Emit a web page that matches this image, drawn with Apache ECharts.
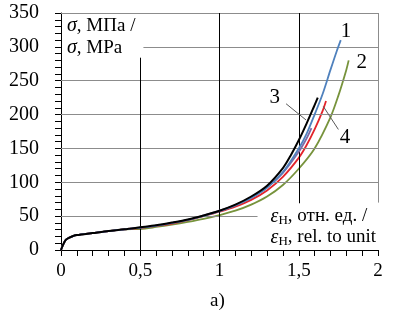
<!DOCTYPE html>
<html>
<head>
<meta charset="utf-8">
<script src="https://cdn.jsdelivr.net/npm/echarts@6/dist/echarts.min.js"></script>
<style>
  html, body { margin: 0; padding: 0; background: #fff; }
  #main { width: 393px; height: 323px; }
</style>
</head>
<body>
<div id="main"></div>
<script>
// strain (rel. units) / stress (MPa)
var startPart = [[0, 0], [0.01, 6], [0.02, 11], [0.03, 15], [0.05, 18], [0.08, 21], [0.1, 22], [0.2, 25], [0.3, 28], [0.4, 30.5]];

var curve1 = [[0.5, 33], [0.6, 36], [0.7, 40], [0.8, 44.5], [0.9, 50.5], [1.0, 57.5], [1.1, 66], [1.2, 77],
  [1.3, 92], [1.4, 115], [1.5, 150], [1.55, 172], [1.6, 200], [1.65, 230], [1.7, 266], [1.74, 294], [1.765, 310]];
var curve2 = [[0.5, 31], [0.6, 34], [0.7, 37.5], [0.8, 41.5], [0.9, 46], [1.0, 51.5], [1.1, 58], [1.2, 67],
  [1.3, 79], [1.4, 96], [1.5, 120], [1.6, 150], [1.7, 196], [1.75, 228], [1.8, 266], [1.815, 280]];
var curve3 = [[0.5, 33.5], [0.6, 36.5], [0.7, 40.5], [0.8, 45], [0.9, 51], [1.0, 58], [1.1, 67], [1.2, 79],
  [1.3, 95], [1.4, 121], [1.45, 140], [1.5, 162], [1.55, 187], [1.6, 214], [1.62, 225]];
var curve4 = [[0.5, 32.5], [0.6, 35.5], [0.7, 39], [0.8, 44], [0.9, 50], [1.0, 56.5], [1.1, 64], [1.2, 74],
  [1.3, 88], [1.4, 108], [1.5, 136], [1.55, 155], [1.6, 178], [1.65, 205], [1.672, 220]];
var curve5 = [[0.5, 33], [0.6, 36], [0.7, 40], [0.8, 44.5], [0.9, 51], [1.0, 58], [1.1, 66.5], [1.2, 78],
  [1.3, 93], [1.4, 114], [1.5, 145], [1.55, 165], [1.58, 180]];

var xTicks = [0, 0.5, 1, 1.5, 2];
var yTicks = [0, 50, 100, 150, 200, 250, 300, 350];

// curve numbers and their spots
var curveNames = ['1', '2', '3', '4'];
var namePos = [[1.798, 323], [1.897, 277], [1.348, 225], [1.792, 166]];

var FONT = 'Liberation Serif';
var gridGray = '#8c8c8c';

function full(arr) { return startPart.concat(arr); }

function gline(x1, y1, x2, y2, color) {
  return [{ coord: [x1, y1], lineStyle: { color: color, width: 1, type: 'solid' } }, { coord: [x2, y2] }];
}

var chart = echarts.init(document.getElementById('main'));

var option = {
  animation: false,
  backgroundColor: '#fff',
  grid: { left: 61, right: 15, top: 13, bottom: 73, outerBoundsMode: 'none' },
  xAxis: {
    type: 'value', min: 0, max: 2, interval: 0.5,
    axisLine: { show: true, onZero: false, lineStyle: { color: '#000', width: 1 } },
    axisTick: { show: true, length: 6, lineStyle: { color: '#000' } },
    minorTick: { show: true, splitNumber: 5, length: 6, lineStyle: { color: '#000' } },
    splitLine: { show: false },
    axisLabel: {
      color: '#000', fontFamily: FONT, fontSize: 19, margin: 12,
      showMinLabel: true, showMaxLabel: true,
      formatter: function (v) { return String(v).replace('.', ','); }
    }
  },
  yAxis: {
    type: 'value', min: 0, max: 350, interval: 50,
    axisLine: { show: true, onZero: false, lineStyle: { color: '#000', width: 1 } },
    axisTick: { show: true, length: 6, lineStyle: { color: '#000' } },
    minorTick: { show: true, splitNumber: 5, length: 6, lineStyle: { color: '#000' } },
    splitLine: { show: false },
    axisLabel: { color: '#000', fontFamily: FONT, fontSize: 20, margin: 22, showMinLabel: true, showMaxLabel: true }
  },
  graphic: [
    {
      type: 'text', left: 67, top: 15, z: 10,
      style: {
        text: '{i|σ}, МПа /\n{i|σ}, MPa',
        font: '19px "Liberation Serif"', fill: '#000', lineHeight: 22,
        rich: { i: { fontStyle: 'italic', fontFamily: FONT, fontSize: 20, fill: '#000' } }
      }
    },
    {
      type: 'text', right: 17, top: 206, z: 10,
      style: {
        text: '{i|ε}{s|Н}, отн. ед. /\n{i|ε}{s|Н}, rel. to unit',
        font: '19px "Liberation Serif"', fill: '#000', lineHeight: 21, align: 'left',
        rich: {
          i: { fontStyle: 'italic', fontFamily: FONT, fontSize: 20, fill: '#000' },
          s: { fontFamily: FONT, fontSize: 13, fill: '#000', padding: [8, 0, 0, 0] }
        }
      }
    },
    {
      type: 'text', left: 210, top: 292,
      style: { text: 'a)', font: '19px "Liberation Serif"', fill: '#000' }
    }
  ],
  series: [
    {
      // grid lines and label leaders
      type: 'line', data: [], z: 1, silent: true, symbol: 'none',
      markLine: {
        silent: true, symbol: 'none', label: { show: false }, animation: false,
        data: [
          gline(0, 350, 2, 350, gridGray),
          gline(0.52, 300, 2, 300, gridGray),
          gline(0, 250, 2, 250, gridGray),
          gline(0, 200, 2, 200, gridGray),
          gline(0, 150, 2, 150, gridGray),
          gline(0, 100, 2, 100, gridGray),
          gline(0, 50, 1.24, 50, gridGray),
          gline(2, 70, 2, 350, gridGray),
          gline(0.5, 0, 0.5, 284, '#000'),
          gline(1, 0, 1, 350, '#000'),
          gline(1.5, 69, 1.5, 350, '#000'),
          gline(1.42, 216, 1.546, 192, '#595959'),
          gline(1.655, 212, 1.75, 178, '#595959')
        ]
      },
      markPoint: {
        symbol: 'circle', symbolSize: 1, silent: true,
        itemStyle: { color: 'rgba(0,0,0,0)' },
        label: { show: true, position: 'inside', color: '#000', fontFamily: FONT, fontSize: 21, formatter: '{b}' },
        data: curveNames.map(function (n, i) { return { name: n, coord: namePos[i] }; })
      }
    },
    { name: '2', type: 'line', data: full(curve2), symbol: 'none', smooth: 0.3, z: 3, lineStyle: { color: '#77933c', width: 1.8 } },
    { name: '4', type: 'line', data: full(curve4), symbol: 'none', smooth: 0.3, z: 4, lineStyle: { color: '#e3242b', width: 1.8 } },
    { name: '5', type: 'line', data: full(curve5), symbol: 'none', smooth: 0.3, z: 5, lineStyle: { color: '#7f6aa6', width: 1.8 } },
    { name: '1', type: 'line', data: full(curve1), symbol: 'none', smooth: 0.3, z: 6, lineStyle: { color: '#4f81bd', width: 1.8 } },
    { name: '3', type: 'line', data: full(curve3), symbol: 'none', smooth: 0.3, z: 7, lineStyle: { color: '#000', width: 2 } }
  ]
};

chart.setOption(option);
</script>
</body>
</html>
